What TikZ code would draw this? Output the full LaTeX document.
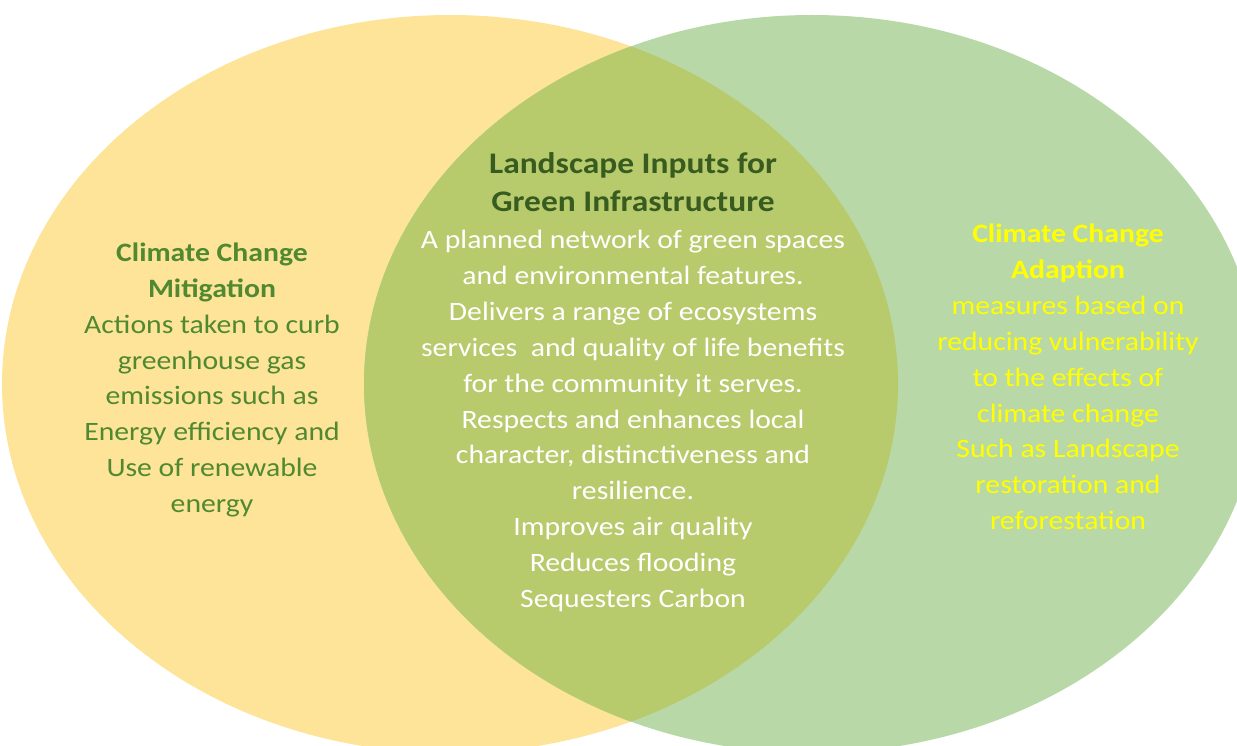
\documentclass[tikz,border=0pt]{standalone}
\usepackage{fontspec}
\setmainfont{Carlito}[FakeStretch=1.12]
\definecolor{mitiyellow}{RGB}{253,228,153}
\definecolor{adaptgreen}{RGB}{185,216,168}
\definecolor{overlapolive}{RGB}{183,202,108}
\definecolor{mititext}{RGB}{80,137,48}
\definecolor{titlegreen}{RGB}{56,92,32}
\definecolor{adapttext}{RGB}{255,255,0}

\begin{document}
\begin{tikzpicture}[x=0.02cm, y=-0.02cm,
    lbl/.style={align=center, inner sep=0pt, font=\fontsize{15.1}{20.4}\selectfont}]
    \useasboundingbox (0,0) rectangle (1237,746);
    \pgfmathsetmacro{\rx}{448}
    \pgfmathsetmacro{\ry}{369}
    \coordinate (MitiCentre) at (450,384);
    \coordinate (AdaptCentre) at (812,384);
    \fill[mitiyellow] (MitiCentre) ellipse [x radius=\rx, y radius=\ry];
    \fill[adaptgreen] (AdaptCentre) ellipse [x radius=\rx, y radius=\ry];
    \begin{scope}
        \clip (MitiCentre) ellipse [x radius=\rx, y radius=\ry];
        \fill[overlapolive] (AdaptCentre) ellipse [x radius=\rx, y radius=\ry];
    \end{scope}
    \node[lbl, text=mititext] (Mitigation) at (212,380)
        {\textbf{Climate Change}\\\textbf{Mitigation}\\Actions taken to curb\\greenhouse gas\\emissions such as\\Energy efficiency and\\Use of renewable\\energy};
    \node[lbl, text=titlegreen, font=\bfseries\fontsize{17}{21.5}\selectfont] (LandscapeTitle) at (633,182)
        {Landscape Inputs for\\Green Infrastructure};
    \node[lbl, text=white] (LandscapeBody) at (633,421)
        {A planned network of green spaces\\and environmental features.\\Delivers a range of ecosystems\\services\ \ and quality of life benefits\\for the community it serves.\\Respects and enhances local\\character, distinctiveness and\\resilience.\\Improves air quality\\Reduces flooding\\Sequesters Carbon};
    \node[lbl, text=adapttext] (Adaption) at (1068,377)
        {\textbf{Climate Change}\\\textbf{Adaption}\\measures based on\\reducing vulnerability\\to the effects of\\climate change\\Such as Landscape\\restoration and\\reforestation};
\end{tikzpicture}
\end{document}
